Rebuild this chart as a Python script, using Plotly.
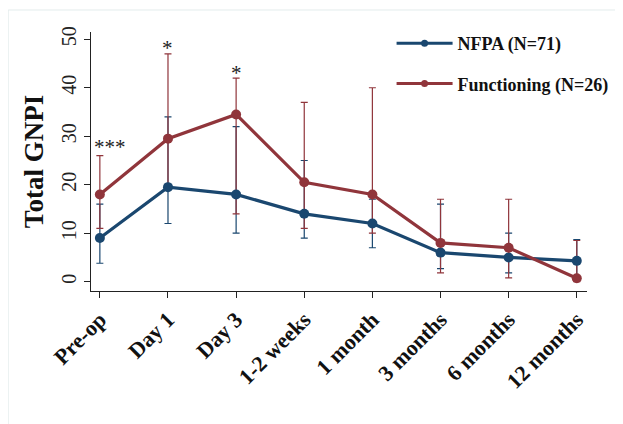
import plotly.graph_objects as go

categories = ["Pre-op", "Day 1", "Day 3", "1-2 weeks", "1 month", "3 months", "6 months", "12 months"]

nfpa_name = "NFPA (N=71)"
nfpa_vals = [9, 19.5, 18, 14, 12, 6, 5, 4.3]
nfpa_low = [3.8, 12, 10, 9, 7, 2.7, 1.8, 0.5]
nfpa_high = [16, 34, 32, 25, 17, 16, 10, 8.7]

func_name = "Functioning (N=26)"
func_vals = [18, 29.5, 34.5, 20.5, 18, 8, 7, 0.7]
func_low = [11, 20, 14, 11, 10, 1.8, 0.8, 0]
func_high = [26, 47, 42, 37, 40, 17, 17, 8.5]

sig_labels = ["***", "*", "*"]
sig_cats = ["Pre-op", "Day 1", "Day 3"]
sig_y = [27.8, 48.2, 43.0]

NAVY = "#1a476f"
MAROON = "#90353b"
FONT = "Liberation Serif, Times New Roman, serif"

x_idx = list(range(len(categories)))

fig = go.Figure()

def add_errors(vals, low, high, color):
    fig.add_trace(go.Scatter(
        x=x_idx, y=vals, mode="markers", marker=dict(size=1, color="rgba(0,0,0,0)"),
        error_y=dict(type="data", symmetric=False,
                     array=[h - v for h, v in zip(high, vals)],
                     arrayminus=[v - l for v, l in zip(vals, low)],
                     color=color, thickness=1.2, width=3.5),
        showlegend=False, hoverinfo="skip"))

add_errors(nfpa_vals, nfpa_low, nfpa_high, NAVY)
add_errors(func_vals, func_low, func_high, MAROON)

fig.add_trace(go.Scatter(x=x_idx, y=nfpa_vals, mode="lines+markers", name=nfpa_name,
                         line=dict(color=NAVY, width=3.2), marker=dict(size=10, color=NAVY),
                         showlegend=False))
fig.add_trace(go.Scatter(x=x_idx, y=func_vals, mode="lines+markers", name=func_name,
                         line=dict(color=MAROON, width=3.2), marker=dict(size=10, color=MAROON),
                         showlegend=False))

# legend entries
fig.add_trace(go.Scatter(x=[None], y=[None], mode="lines+markers", name="<b>%s</b>" % nfpa_name,
                         line=dict(color=NAVY, width=3), marker=dict(size=7, color=NAVY),
                         legendgroup="a"))
fig.add_trace(go.Scatter(x=[None], y=[None], mode="lines+markers", name="<b>%s</b>" % func_name,
                         line=dict(color=MAROON, width=3), marker=dict(size=7, color=MAROON),
                         legendgroup="b"))

for lab, c, yv in zip(sig_labels, sig_cats, sig_y):
    fig.add_annotation(x=categories.index(c), y=yv, text=lab, showarrow=False,
                       xanchor="center", yanchor="middle",
                       xshift=10 if len(lab) > 1 else 0,
                       font=dict(family=FONT, size=21, color="#222"))

fig.add_shape(type="rect", xref="paper", yref="paper", x0=-0.167, x1=1.1, y0=-0.6, y1=1.085,
              line=dict(color="#e3ecec", width=1), layer="below")

# page body has an 8px margin, so the figure is 8px smaller and margins shifted
fig.update_layout(
    width=615, height=416,
    margin=dict(l=83, r=36, t=24, b=133, autoexpand=False),
    paper_bgcolor="white", plot_bgcolor="white",
    font=dict(family=FONT, color="#111"),
    showlegend=True,
    legend=dict(x=0.606, y=1.027, xanchor="left", yanchor="top",
                font=dict(family=FONT, size=18, color="#111"),
                itemwidth=56, tracegroupgap=14, traceorder="grouped",
                bgcolor="rgba(0,0,0,0)"),
    xaxis=dict(range=[-0.13, 7.15], tickmode="array", tickvals=x_idx,
               ticktext=["<b>%s</b>" % c for c in categories],
               tickangle=-45, tickfont=dict(family=FONT, size=22, color="#111"),
               showline=True, linecolor="#222", linewidth=1.2,
               ticks="outside", ticklen=6, tickcolor="#222",
               showgrid=False, zeroline=False, automargin=False),
    yaxis=dict(range=[-1.92, 51.5], tickmode="array", tickvals=[0, 10, 20, 30, 40, 50],
               tickangle=-90, tickfont=dict(family=FONT, size=20, color="#222"),
               showline=True, linecolor="#222", linewidth=1.2,
               ticks="outside", ticklen=6, tickcolor="#222",
               showgrid=False, zeroline=False, automargin=False,
               title=dict(text="<b>Total GNPI</b>", font=dict(family=FONT, size=27, color="#111"),
                          standoff=6)),
)

fig.write_html("out.html")
